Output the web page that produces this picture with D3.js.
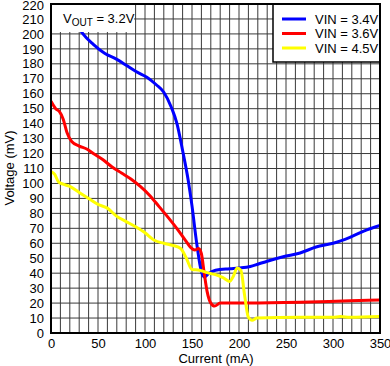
<!DOCTYPE html>
<html><head><meta charset="utf-8">
<script src="https://cdn.jsdelivr.net/npm/d3@7"></script>
<style>body{margin:0;background:#fff}svg{display:block;font-family:"Liberation Sans",Arial,sans-serif}</style>
</head><body><svg id="c" width="390" height="366"></svg>
<script>
const xTicks = [0,50,100,150,200,250,300,350];
const yTicks = d3.range(0,221,10);
const seriesNames = ["VIN = 3.4V","VIN = 3.6V","VIN = 4.5V"];
const seriesColors = ["#0000ff","#ff0000","#ffff00"];
const vin34 = [[20,215],[34,200],[45,193],[57,187],[70,183],[80,179],[90,175],[102,171],[112,166],[120,161],[128,151],[134,140],[140,122],[146,102],[150,85],[155,60],[160,41],[163,37.5],[168,40],[175,42],[190,43],[200,43.5],[212,44.5],[220,46],[230,48],[247,51],[265,53.5],[282,57.5],[300,60],[318,64],[336,69],[350,72]];
const vin36 = [[0,155],[5,150],[9,148],[13,143],[17,134],[22,128],[30,125],[38,123],[45,120],[55,116],[65,111],[75,107],[85,103],[95,98],[105,92],[115,84.5],[125,77],[135,69],[143,62],[149,57],[153,55.5],[157,56.5],[160,53],[163,40],[166,28],[170,20],[174,18],[180,20],[210,20],[265,20.5],[318,21.5],[350,22]];
const vin45 = [[0,108],[4,106],[8,101],[13,99.5],[20,98],[30,94],[40,90],[50,86],[60,83.5],[70,78],[80,74.5],[90,71],[100,67],[110,62],[120,60],[130,58.5],[138,56.5],[144,50],[150,42.5],[158,42],[165,40.5],[175,39],[183,37],[190,34.5],[194,38],[198,43.5],[202,42],[206,25],[210,10.5],[214,8.5],[219,10],[265,10.5],[300,10.5],[308,11],[318,10.5],[350,11]];
const series = [vin34, vin36, vin45];

const L=51,R=380,T=4,B=333;
const svg = d3.select("#c");
const x = d3.scaleLinear().domain([0,350]).range([L,R]);
const y = d3.scaleLinear().domain([0,220]).range([B,T]);

// grid
const g = svg.append("g");
g.selectAll("line.v").data(d3.range(10,350,10)).join("line")
 .attr("x1",d=>x(d)).attr("x2",d=>x(d)).attr("y1",T).attr("y2",B)
 .attr("stroke","#3a3a3a").attr("stroke-width",1);
g.selectAll("line.h").data(d3.range(10,220,10)).join("line")
 .attr("y1",d=>y(d)).attr("y2",d=>y(d)).attr("x1",L).attr("x2",R)
 .attr("stroke","#3a3a3a").attr("stroke-width",1);

// curves
svg.append("clipPath").attr("id","pc").append("rect").attr("x",L).attr("y",T).attr("width",R-L).attr("height",B-T);
const line = d3.line().x(d=>x(d[0])).y(d=>y(d[1])).curve(d3.curveMonotoneX);
svg.append("g").attr("clip-path","url(#pc)").selectAll("path").data(series).join("path")
 .attr("d",line).attr("fill","none").attr("stroke",(d,i)=>seriesColors[i]).attr("stroke-width",3).attr("stroke-linejoin","round");

// VOUT box
svg.append("rect").attr("x",L+1).attr("y",T+1).attr("width",82).attr("height",27).attr("fill","#fff");
const vt = svg.append("text").attr("x",63).attr("y",23).attr("font-size",13).attr("fill","#000");
vt.append("tspan").text("V");
vt.append("tspan").attr("dy",3).attr("font-size",10).text("OUT");
vt.append("tspan").attr("dy",-3).text(" = 3.2V");

// legend
svg.append("rect").attr("x",273).attr("y",T).attr("width",R-273).attr("height",58).attr("fill","#fff").attr("stroke","#000").attr("stroke-width",1.5);
const lg = svg.append("g").selectAll("g").data(seriesNames).join("g").attr("transform",(d,i)=>`translate(0,${19+i*14.5})`);
lg.append("line").attr("x1",282).attr("x2",306).attr("stroke",(d,i)=>seriesColors[i]).attr("stroke-width",3);
lg.append("text").attr("x",315).attr("y",4.5).attr("font-size",13).text(d=>d);

// frame
svg.append("rect").attr("x",L).attr("y",T).attr("width",R-L).attr("height",B-T).attr("fill","none").attr("stroke","#000").attr("stroke-width",2);

// axes
const ya = svg.append("g").attr("transform",`translate(${L},0)`).call(d3.axisLeft(y).tickValues(yTicks).tickSize(0).tickPadding(7));
const xa = svg.append("g").attr("transform",`translate(0,${B})`).call(d3.axisBottom(x).tickValues(xTicks).tickSize(0).tickPadding(6));
[ya,xa].forEach(a=>{a.select(".domain").remove();a.selectAll("text").attr("font-size",13).attr("fill","#000").attr("font-family","Liberation Sans, Arial, sans-serif");});
ya.selectAll(".tick").filter(d=>d===220).select("text").attr("dy","0.45em");

svg.append("text").attr("x",216).attr("y",363).attr("text-anchor","middle").attr("font-size",13).text("Current (mA)");
svg.append("text").attr("transform","translate(14,168) rotate(-90)").attr("text-anchor","middle").attr("font-size",13).text("Voltage (mV)");
</script></body></html>
